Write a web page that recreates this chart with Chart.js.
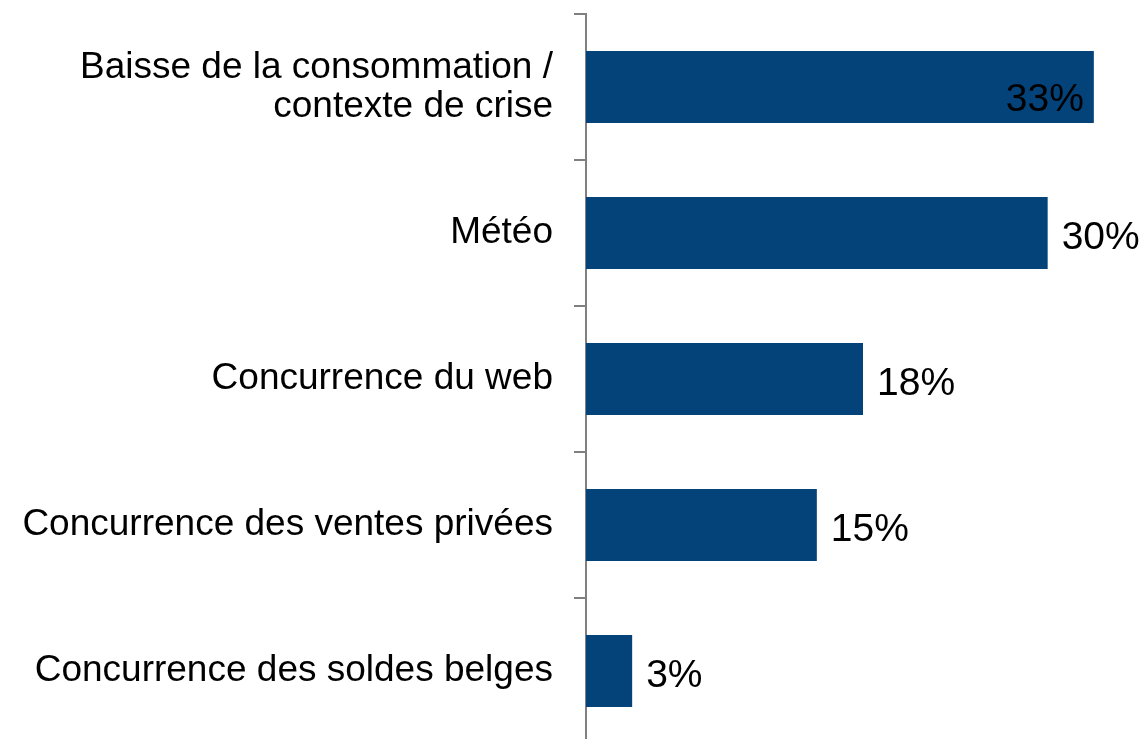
<!DOCTYPE html>
<html>
<head>
<meta charset="utf-8">
<script src="https://cdn.jsdelivr.net/npm/chart.js@4"></script>
<style>
  html, body { margin: 0; padding: 0; background: #fff; overflow: hidden; }
  .wrap { width: 1148px; height: 744px; position: relative; }
</style>
</head>
<body>
<div class="wrap"><canvas id="bars"></canvas></div>
<script>
// data
var categories = [
    ['Baisse de la consommation /', 'contexte de crise'],
    'Météo',
    'Concurrence du web',
    'Concurrence des ventes privées',
    'Concurrence des soldes belges'
];
var values = [33, 30, 18, 15, 3];
var valueLabels = ['33%', '30%', '18%', '15%', '3%'];

var FONT = '"Liberation Sans", Arial, sans-serif';

/*------value labels--------*/
var valueLabelPlugin = {
    id: 'valueLabels',
    afterDatasetsDraw: function (chart) {
        var ctx = chart.ctx;
        var meta = chart.getDatasetMeta(0);
        ctx.save();
        ctx.font = '39px ' + FONT;
        ctx.fillStyle = '#000';
        ctx.textBaseline = 'alphabetic';
        meta.data.forEach(function (bar, i) {
            var txt = valueLabels[i];
            var w = ctx.measureText(txt).width;
            if (bar.x + 14 + w > chart.width) {
                ctx.textAlign = 'right';
                ctx.fillText(txt, bar.x - 10, bar.y + 24);
            } else {
                ctx.textAlign = 'left';
                ctx.fillText(txt, bar.x + 14, bar.y + 16);
            }
        });
        ctx.restore();
    }
};

const ctx = document.getElementById('bars').getContext('2d');
const chart = new Chart(ctx, {
    type: 'bar',
    data: {
        labels: categories,
        datasets: [{
            data: values,
            backgroundColor: '#03437a',
            borderWidth: 0,
            barPercentage: 0.493,
            categoryPercentage: 1
        }]
    },
    plugins: [valueLabelPlugin],
    options: {
        indexAxis: 'y',
        responsive: true,
        maintainAspectRatio: false,
        animation: false,
        layout: { padding: { top: 14, right: 8, bottom: 0, left: 0 } },
        plugins: {
            legend: { display: false },
            tooltip: { enabled: false }
        },
        scales: {
            x: {
                display: false,
                min: 0,
                max: 36
            },
            y: {
                afterFit: function (scale) {
                    scale.width = 586;
                    scale.paddingTop = 0;
                    scale.paddingBottom = 0;
                },
                grid: {
                    drawOnChartArea: false,
                    drawTicks: true,
                    tickLength: 12,
                    color: '#808080',
                    lineWidth: 2
                },
                border: { color: '#808080', width: 2 },
                ticks: {
                    color: '#000',
                    padding: 21,
                    font: { family: FONT, size: 37, lineHeight: 1.05 }
                }
            }
        }
    }
});
</script>
</body>
</html>
